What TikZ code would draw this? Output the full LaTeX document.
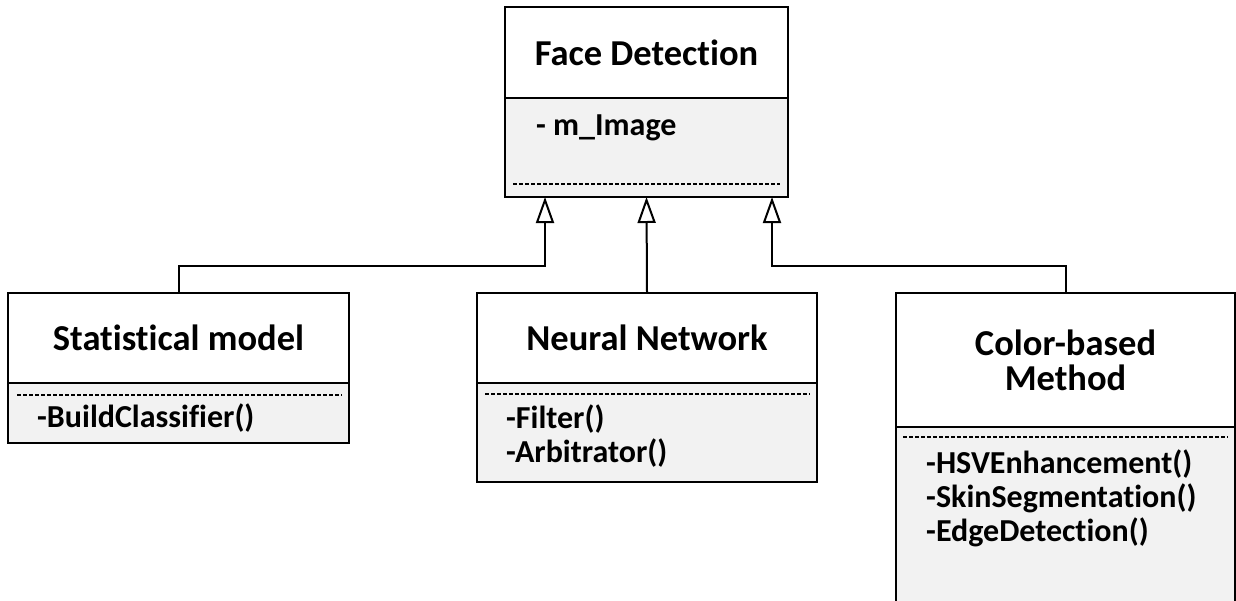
\documentclass[tikz,border=0pt]{standalone}
\usepackage{fontspec}
\setmainfont{Carlito}[Ligatures=NoCommon]
\usetikzlibrary{arrows.meta}
\definecolor{bodygray}{HTML}{F2F2F2}
\tikzset{
  x=1pt, y=-1pt,
  box/.style={draw=black, line width=2pt, rectangle, inner sep=0pt, outer sep=0pt, anchor=north west},
  titlebox/.style={box, fill=white, align=center, font=\fontsize{36.5}{35}\selectfont\bfseries},
  bodybox/.style={box, fill=bodygray},
  member/.style={anchor=base west, inner sep=0pt, font=\fontsize{32}{34}\selectfont\bfseries},
  sep/.style={line width=1.5pt, dash pattern=on 4pt off 2pt},
  gen/.style={line width=2pt, -{Triangle[open, length=26pt, width=18pt, line width=2pt]}}
}
\begin{document}
\begin{tikzpicture}
\useasboundingbox (0,0) rectangle (1236,600);
\clip (0,0) rectangle (1236,600);

% Face Detection
\node[titlebox, minimum width=283pt, minimum height=91pt] (fdt) at (505,7) {Face Detection};
\node[bodybox, minimum width=283pt, minimum height=99pt] (fdb) at (fdt.south west) {};
\node[member] (fdm) at (536,135) {- m\_Image};
\draw[sep] ([shift={(8,-13)}]fdb.south west) -- ([shift={(-8,-13)}]fdb.south east);

% Statistical model
\node[titlebox, minimum width=341pt, minimum height=90pt] (smt) at (8,293) {Statistical model};
\node[bodybox, minimum width=341pt, minimum height=60pt] (smb) at (smt.south west) {};
\draw[sep] ([shift={(9,12)}]smt.south west) -- ([shift={(-7,12)}]smt.south east);
\node[member] (sm1) at (37,427) {-BuildClassifier()};

% Neural Network
\node[titlebox, minimum width=340pt, minimum height=90pt] (nnt) at (477,293) {Neural Network};
\node[bodybox, minimum width=340pt, minimum height=99pt] (nnb) at (nnt.south west) {};
\draw[sep] ([shift={(8,11)}]nnt.south west) -- ([shift={(-7,11)}]nnt.south east);
\node[member] (nn1) at (506,428) {-Filter()};
\node[member] (nn2) at (506,462) {-Arbitrator()};

% Color-based Method
\node[titlebox, minimum width=339pt, minimum height=134pt] (cbt) at (896,293) {Color-based\\Method};
\node[bodybox, minimum width=339pt, minimum height=190pt] (cbb) at (cbt.south west) {};
\draw[sep] ([shift={(7,10)}]cbt.south west) -- ([shift={(-7,10)}]cbt.south east);
\node[member] (cb1) at (926,473) {-HSVEnhancement()};
\node[member] (cb2) at (926,507) {-SkinSegmentation()};
\node[member] (cb3) at (926,541) {-EdgeDetection()};

% Generalisation connectors
\draw[gen] (smt.north) -- ++(0,-27) -| ([xshift=-101.5pt]fdb.south);
\draw[gen] (nnt.north) -- (fdb.south);
\draw[gen] (cbt.north) -- ++(0,-27) -| ([xshift=125.5pt]fdb.south);
\end{tikzpicture}
\end{document}
